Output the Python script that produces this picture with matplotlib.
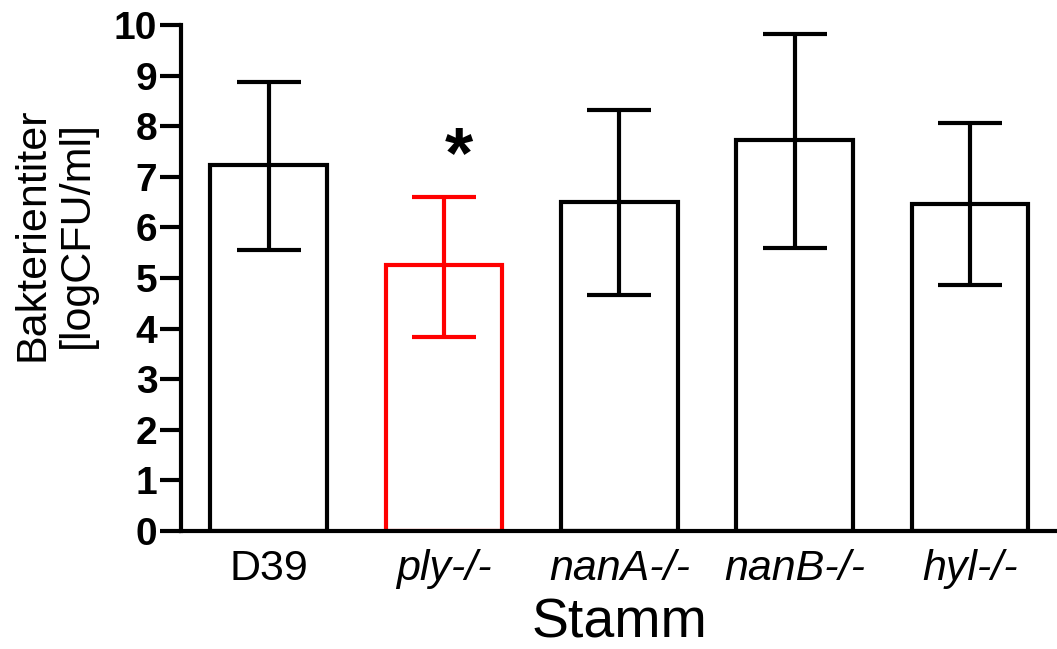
import numpy as np
import matplotlib
matplotlib.use("Agg")
import matplotlib.pyplot as plt

# Werte
stamm = ["D39", "ply-/-", "nanA-/-", "nanB-/-", "hyl-/-"]
titer = [7.23, 5.26, 6.51, 7.72, 6.47]
fehler_oben = [8.88, 6.61, 8.32, 9.83, 8.06]
fehler_unten = [5.56, 3.84, 4.66, 5.59, 4.86]
farben = ["black", "red", "black", "black", "black"]
kursiv = [False, True, True, True, True]

plt.rcParams["font.family"] = ["Liberation Sans", "DejaVu Sans"]

fig = plt.figure(figsize=(10.57, 6.49), dpi=100)
ax = fig.add_axes([0.1712, 0.1818, 0.8278, 0.7797])

x = np.arange(len(stamm))
for i in range(len(stamm)):
    ax.bar(x[i], titer[i], width=0.666, facecolor="white",
           edgecolor=farben[i], linewidth=3.0, zorder=2)
    err = [[titer[i] - fehler_unten[i]], [fehler_oben[i] - titer[i]]]
    ax.errorbar(x[i], titer[i], yerr=err, fmt="none", ecolor=farben[i],
                elinewidth=3.0, capsize=23, capthick=3.0, zorder=3)

# Signifikanz-Stern
ax.text(1.085, 7.37, "*", ha="center", va="center", fontsize=52,
        fontweight="bold", color="black")

ax.set_xlim(-0.5, 4.49)
ax.set_ylim(0, 10)
ax.set_yticks(range(0, 11))
ax.set_xticks(x)
ax.set_xticklabels(stamm, fontsize=31)
for lab, k in zip(ax.get_xticklabels(), kursiv):
    if k:
        lab.set_fontstyle("italic")
for lab in ax.get_yticklabels():
    lab.set_fontsize(28)
    lab.set_fontweight("bold")

ax.spines["top"].set_visible(False)
ax.spines["right"].set_visible(False)
ax.spines["left"].set_linewidth(3.0)
ax.spines["bottom"].set_linewidth(3.0)
ax.tick_params(axis="y", length=15, width=3.0, pad=2)
ax.tick_params(axis="x", length=0, pad=13)

# Achsentitel
fig.text(0.5856, 1 - 637 / 649, "Stamm", ha="center", va="baseline",
         fontsize=40)
fig.text(0.052, 0.639, "Bakterientiter\n[logCFU/ml]", rotation=90,
         ha="center", va="center", fontsize=31, linespacing=1.15,
         multialignment="center")

fig.savefig("out.png", dpi=100)
